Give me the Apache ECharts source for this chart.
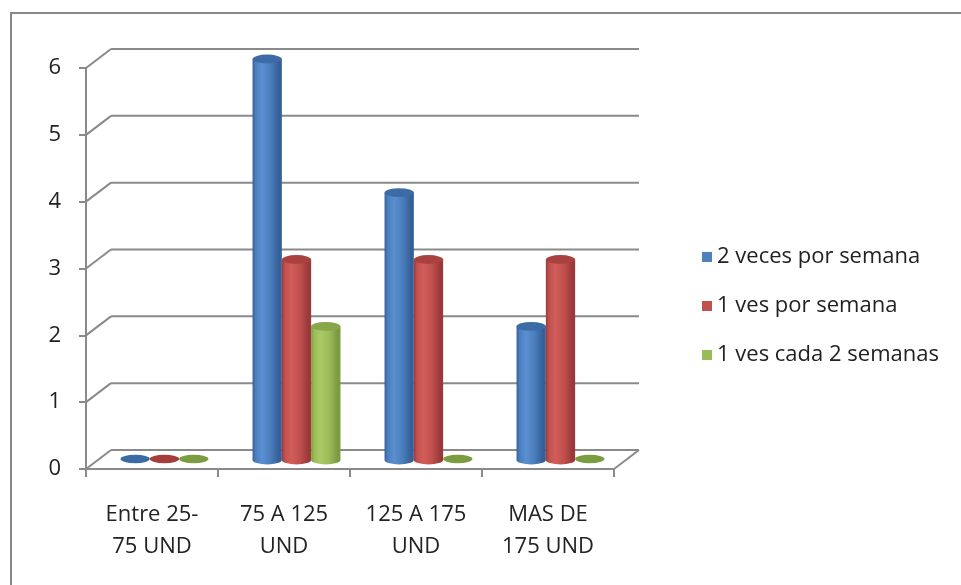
<!DOCTYPE html>
<html>
<head>
<meta charset="utf-8">
<script src="https://cdn.jsdelivr.net/npm/echarts@6/dist/echarts.min.js"></script>
<style>
  html, body { margin: 0; padding: 0; background: #fff; }
  #chart { width: 961px; height: 585px; }
</style>
</head>
<body>
<div id="chart"></div>
<script>
// Categories (order sizes) and frequency counts per series
const categories = ['Entre 25-\n75 UND', '75 A 125\nUND', '125 A 175\nUND', 'MAS DE\n175 UND'];
const seriesNames = ['2 veces por semana', '1 ves por semana', '1 ves cada 2 semanas'];
const dosVecesPorSemana = [0, 6, 4, 2];
const unaVesPorSemana = [0, 3, 3, 3];
const unaVesCadaDosSemanas = [0, 2, 0, 0];
const yTicks = [0, 1, 2, 3, 4, 5, 6];

const seriesValues = [dosVecesPorSemana, unaVesPorSemana, unaVesCadaDosSemanas];

// Shading for each cylinder colour: [edge dark, base, highlight, top cap, flat (zero) disc]
const palettes = [
  { dark: '#365f98', base: '#4a7dbb', light: '#5a8fd2', top: '#3d6ba6', flat: '#3c6aa5', legend: '#4F81BD' },
  { dark: '#99393a', base: '#c0504d', light: '#d15d5a', top: '#a9423f', flat: '#a53e3b', legend: '#C0504D' },
  { dark: '#7c9a3f', base: '#9bbb59', light: '#a9cb66', top: '#87a74a', flat: '#7b9c41', legend: '#9BBB59' }
];

// Oblique depth of the 3D box (back wall offset) and of the cylinder row
const BACK_DX = 25, BACK_DY = -19;
const MID_DX = 12.5, MID_DY = -9;
const BAR_FRACTION = 0.222;

const frameColor = '#8a8a8a';

function ellipsePath(cx, cy, rx, ry) {
  return 'M' + (cx - rx) + ' ' + cy +
    ' A' + rx + ' ' + ry + ' 0 1 0 ' + (cx + rx) + ' ' + cy +
    ' A' + rx + ' ' + ry + ' 0 1 0 ' + (cx - rx) + ' ' + cy + ' Z';
}

function frameRenderItem(params, api) {
  const v = api.value(1);
  const band = api.size([1, 0])[0];
  const first = api.coord([0, v]);
  const last = api.coord([categories.length - 1, v]);
  const xl = first[0] - band / 2;
  const xr = last[0] + band / 2;
  const y = first[1];
  const lineStyle = { stroke: frameColor, lineWidth: 2 };
  const children = [
    { type: 'line', shape: { x1: xl, y1: y, x2: xl + BACK_DX, y2: y + BACK_DY }, style: lineStyle },
    { type: 'line', shape: { x1: xl + BACK_DX, y1: y + BACK_DY, x2: xr + BACK_DX, y2: y + BACK_DY }, style: lineStyle }
  ];
  if (v === 0) {
    children.push({ type: 'line', shape: { x1: xr, y1: y, x2: xr + BACK_DX, y2: y + BACK_DY }, style: lineStyle });
  }
  return { type: 'group', children: children };
}

function makeCylinderRender(seriesIndex) {
  const pal = palettes[seriesIndex];
  return function (params, api) {
    const c = api.value(0);
    const v = api.value(1);
    const band = api.size([1, 0])[0];
    const base = api.coord([c, 0]);
    const top = api.coord([c, v]);
    const w = band * BAR_FRACTION;
    const r = w / 2;
    const ry = w * 0.15;
    const cx = base[0] + MID_DX + (seriesIndex - 1) * w;
    const yb = base[1] + MID_DY;
    const yt = top[1] + MID_DY;
    if (v === 0) {
      return {
        type: 'path',
        shape: { pathData: ellipsePath(cx, yb - 1, r, ry * 0.95) },
        style: { fill: pal.flat }
      };
    }
    const body = 'M' + (cx - r) + ' ' + yt +
      ' L' + (cx - r) + ' ' + yb +
      ' A' + r + ' ' + ry + ' 0 0 0 ' + (cx + r) + ' ' + yb +
      ' L' + (cx + r) + ' ' + yt + ' Z';
    const grad = new echarts.graphic.LinearGradient(0, 0, 1, 0, [
      { offset: 0, color: pal.dark },
      { offset: 0.1, color: pal.base },
      { offset: 0.32, color: pal.light },
      { offset: 0.62, color: pal.base },
      { offset: 0.9, color: pal.dark },
      { offset: 1, color: pal.dark }
    ]);
    return {
      type: 'group',
      children: [
        { type: 'path', shape: { pathData: body }, style: { fill: grad } },
        { type: 'path', shape: { pathData: ellipsePath(cx, yt, r, ry) }, style: { fill: pal.top } }
      ]
    };
  };
}

const chart = echarts.init(document.getElementById('chart'), null, { renderer: 'canvas' });

const fontFamily = '"Open Sans", "Liberation Sans", sans-serif';

const option = {
  animation: false,
  backgroundColor: '#ffffff',
  graphic: [
    {
      type: 'rect',
      shape: { x: 11, y: 13, width: 1000, height: 620 },
      style: { fill: 'none', stroke: '#888888', lineWidth: 2 },
      silent: true
    }
  ],
  grid: { left: 86, top: 68, width: 528, height: 401 },
  legend: {
    orient: 'vertical',
    left: 697,
    top: 240,
    itemWidth: 10,
    itemHeight: 10,
    itemGap: 25,
    icon: 'rect',
    data: seriesNames,
    textStyle: { fontFamily: fontFamily, fontSize: 22, color: '#222', lineHeight: 24 }
  },
  xAxis: {
    type: 'category',
    data: categories,
    boundaryGap: true,
    axisLine: { show: true, lineStyle: { color: frameColor, width: 2 } },
    axisTick: { show: true, length: 8, alignWithLabel: false, lineStyle: { color: frameColor, width: 2 } },
    axisLabel: { fontFamily: fontFamily, fontSize: 22, color: '#222', lineHeight: 32, margin: 30 },
    splitLine: { show: false }
  },
  yAxis: {
    type: 'value',
    min: 0,
    max: 6,
    interval: 1,
    axisLine: { show: true, lineStyle: { color: frameColor, width: 2 } },
    axisTick: { show: true, length: 7, lineStyle: { color: frameColor, width: 2 } },
    axisLabel: { fontFamily: fontFamily, fontSize: 22, color: '#222', margin: 25 },
    splitLine: { show: false }
  },
  series: [
    {
      type: 'custom',
      name: 'frame',
      coordinateSystem: 'cartesian2d',
      renderItem: frameRenderItem,
      data: yTicks.map(function (t) { return [0, t]; }),
      clip: false,
      silent: true,
      z: 1
    }
  ].concat(seriesNames.map(function (name, i) {
    return {
      type: 'custom',
      name: name,
      coordinateSystem: 'cartesian2d',
      renderItem: makeCylinderRender(i),
      itemStyle: { color: palettes[i].legend },
      data: seriesValues[i].map(function (v, c) { return [c, v]; }),
      clip: false,
      z: 3
    };
  }))
};

chart.setOption(option);
</script>
</body>
</html>
